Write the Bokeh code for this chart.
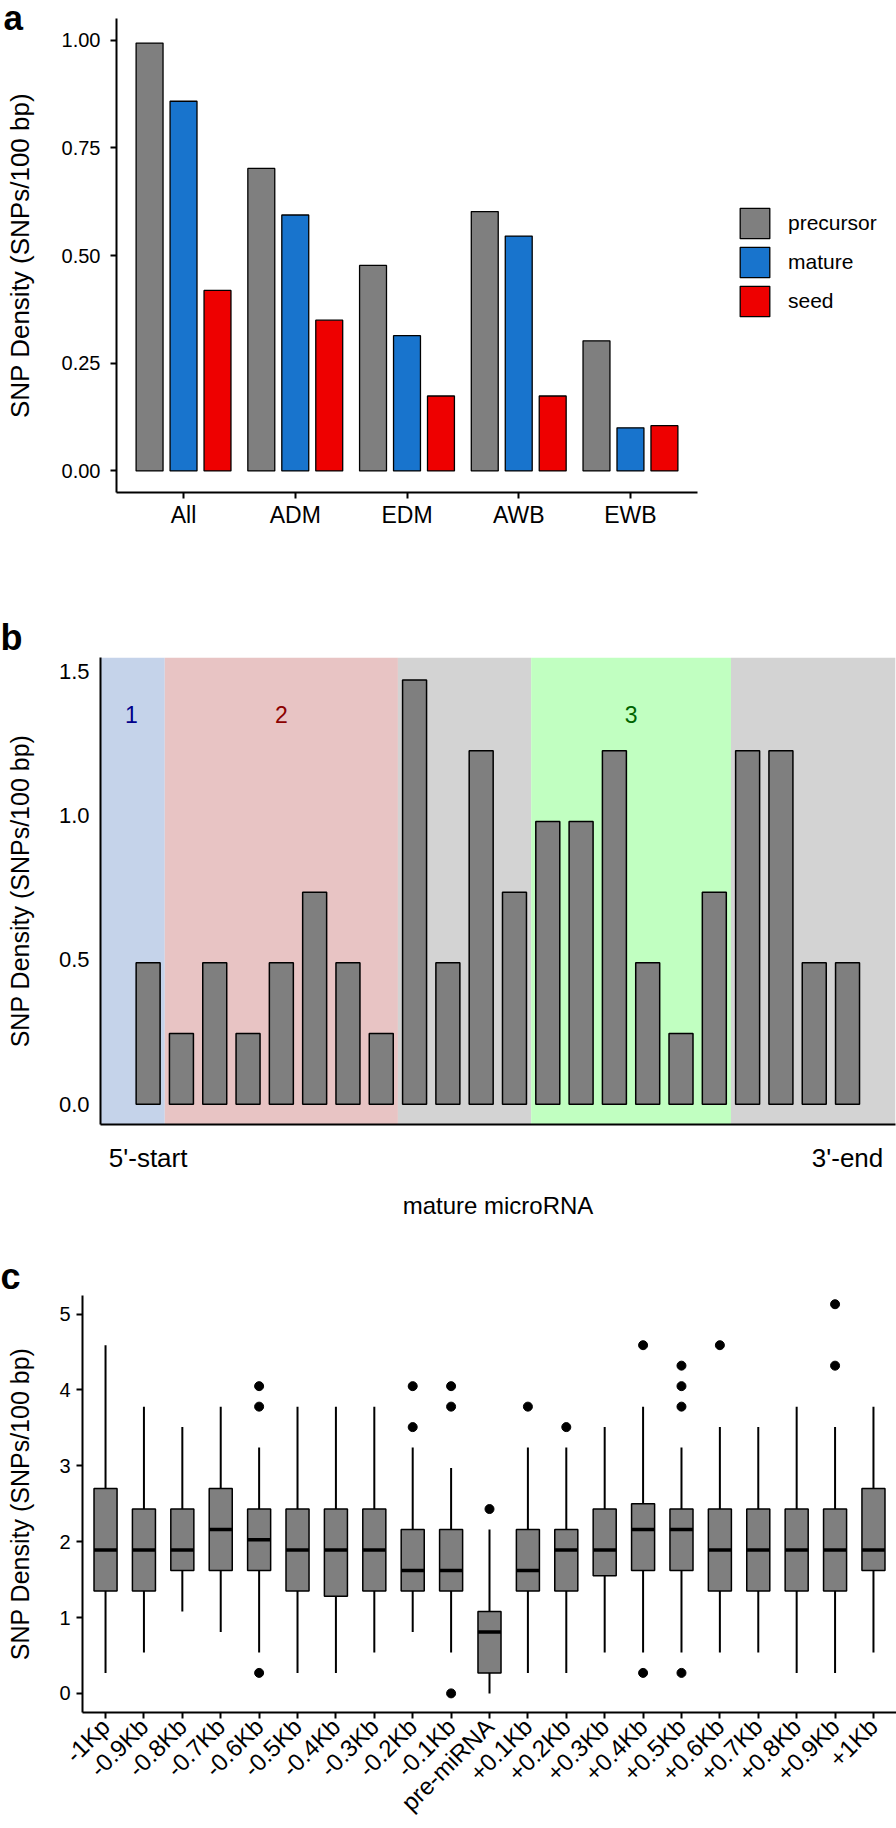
import numpy as np
import pandas as pd
from bokeh.plotting import figure
from bokeh.models import (ColumnDataSource, Range1d, FixedTicker, Plot,
                          NumeralTickFormatter, Legend, LegendItem, BoxAnnotation)
from bokeh.transform import dodge
from bokeh.layouts import column
from bokeh.embed import file_html
from bokeh.resources import INLINE
from bokeh.core.properties import value

FONT = "Liberation Sans"

# ---------------- Panel a data ----------------
groups_a = ["All", "ADM", "EDM", "AWB", "EWB"]
series_a = ["precursor", "mature", "seed"]
precursor_a = [0.993, 0.702, 0.477, 0.602, 0.302]
mature_a = [0.858, 0.594, 0.314, 0.545, 0.100]
seed_a = [0.419, 0.350, 0.174, 0.174, 0.105]
colors_a = ["#7F7F7F", "#1874CD", "#EE0000"]
yticks_a = [0.0, 0.25, 0.5, 0.75, 1.0]

# ---------------- Panel b data ----------------
positions_b = list(range(1, 23))
density_b = [0.49, 0.245, 0.49, 0.245, 0.49, 0.735, 0.49, 0.245, 1.47, 0.49, 1.225,
             0.735, 0.98, 0.98, 1.225, 0.49, 0.245, 0.735, 1.225, 1.225, 0.49, 0.49]
region_left = [None, 1.5, 8.5, 12.5, 18.5]
region_right = [1.5, 8.5, 12.5, 18.5, None]
region_colors = ["#C5D3EA", "#E8C4C4", "#D3D3D3", "#C1FFC1", "#D3D3D3"]
region_names = ["1", "2", "3"]
region_label_x = [0.5, 5.0, 15.5]
region_label_y = [1.35, 1.35, 1.35]
region_label_colors = ["#00008B", "#8B0000", "#006400"]
xtick_pos_b = [1, 22]
xtick_labels_b = ["5'-start", "3'-end"]
yticks_b = [0.0, 0.5, 1.0, 1.5]

# ---------------- Panel c data ----------------
cats_c = ["-1Kp", "-0.9Kb", "-0.8Kb", "-0.7Kb", "-0.6Kb", "-0.5Kb", "-0.4Kb", "-0.3Kb",
          "-0.2Kb", "-0.1Kb", "pre-miRNA", "+0.1Kb", "+0.2Kb", "+0.3Kb", "+0.4Kb",
          "+0.5Kb", "+0.6Kb", "+0.7Kb", "+0.8Kb", "+0.9Kb", "+1Kb"]
lower_c = [0.27, 0.54, 1.08, 0.81, 0.54, 0.27, 0.27, 0.54, 0.81, 0.54, 0.00,
           0.27, 0.27, 0.54, 0.54, 0.54, 0.54, 0.54, 0.27, 0.27, 0.54]
q1_c = [1.35, 1.35, 1.62, 1.62, 1.62, 1.35, 1.28, 1.35, 1.35, 1.35, 0.27,
        1.35, 1.35, 1.55, 1.62, 1.62, 1.35, 1.35, 1.35, 1.35, 1.62]
median_c = [1.89, 1.89, 1.89, 2.16, 2.025, 1.89, 1.89, 1.89, 1.62, 1.62, 0.81,
            1.62, 1.89, 1.89, 2.16, 2.16, 1.89, 1.89, 1.89, 1.89, 1.89]
q3_c = [2.70, 2.43, 2.43, 2.70, 2.43, 2.43, 2.43, 2.43, 2.16, 2.16, 1.08,
        2.16, 2.16, 2.43, 2.50, 2.43, 2.43, 2.43, 2.43, 2.43, 2.70]
upper_c = [4.59, 3.78, 3.51, 3.78, 3.24, 3.78, 3.78, 3.78, 3.24, 2.97, 2.16,
           3.24, 3.24, 3.51, 3.78, 3.24, 3.51, 3.51, 3.78, 3.51, 3.78]
outlier_cat = ["-0.6Kb", "-0.6Kb", "-0.6Kb", "-0.2Kb", "-0.2Kb", "-0.1Kb", "-0.1Kb", "-0.1Kb",
               "pre-miRNA", "+0.1Kb", "+0.2Kb", "+0.4Kb", "+0.4Kb", "+0.5Kb", "+0.5Kb",
               "+0.5Kb", "+0.5Kb", "+0.6Kb", "+0.9Kb", "+0.9Kb"]
outlier_val = [4.05, 3.78, 0.27, 4.05, 3.51, 4.05, 3.78, 0.00,
               2.43, 3.78, 3.51, 4.59, 0.27, 4.32, 4.05,
               3.78, 0.27, 4.59, 5.13, 4.32]
yticks_c = [0, 1, 2, 3, 4, 5]

YTITLE = "SNP Density (SNPs/100 bp)"

HAS_FA = "frame_align" in Plot.properties()
EXTRA = {"frame_align": False} if HAS_FA else {}


def style_axis(ax, tick_out=6, lw=2):
    ax.axis_line_color = "black"
    ax.axis_line_width = lw
    ax.major_tick_line_color = "black"
    ax.major_tick_line_width = lw
    ax.major_tick_out = tick_out
    ax.major_tick_in = 0
    ax.minor_tick_line_color = None
    ax.major_label_text_font = FONT
    ax.major_label_text_color = "black"
    ax.axis_label_text_font = FONT
    ax.axis_label_text_font_style = "normal"
    ax.axis_label_text_color = "black"


def base_fig(**kw):
    p = figure(output_backend="svg", toolbar_location=None, **EXTRA, **kw)
    p.xgrid.grid_line_color = None
    p.ygrid.grid_line_color = None
    p.outline_line_color = None
    p.background_fill_color = "white"
    p.border_fill_color = "white"
    return p


def panel_letter(p, letter, offset, standoff, size="36px"):
    p.title.text = letter
    p.title.align = "left"
    p.title.offset = offset
    p.title.vertical_align = "bottom"
    p.title.standoff = standoff
    p.title.text_font = FONT
    p.title.text_font_size = size
    p.title.text_font_style = "bold"
    p.title.text_color = "black"


# ================= Panel a =================
pos_a = list(range(1, len(groups_a) + 1))
PX_PER_UNIT_A = 581 / 5.2
p_a = base_fig(width=896, height=560,
               x_range=Range1d(0.4, 0.4 + 780 / PX_PER_UNIT_A),
               y_range=Range1d(-0.05, 1.05),
               min_border_left=116, min_border_right=0, min_border_top=18, min_border_bottom=68)
src_a = ColumnDataSource(dict(pos=pos_a, precursor=precursor_a, mature=mature_a, seed=seed_a))
offsets_a = [-0.304, 0.0, 0.304]
rends_a = []
for s, c, off in zip(series_a, colors_a, offsets_a):
    r = p_a.vbar(x=dodge("pos", off), top=s, bottom=0, width=0.241,
                 source=src_a, fill_color=c, line_color="black", line_width=1.3)
    rends_a.append(r)
leg = Legend(items=[LegendItem(label=s, renderers=[r]) for s, r in zip(series_a, rends_a)],
             location=(620, 172), glyph_width=37, glyph_height=38, label_height=38,
             spacing=1, padding=0, margin=0, label_standoff=15,
             label_text_font=FONT, label_text_font_size="21px", label_text_color="black",
             border_line_alpha=0, background_fill_alpha=0)
p_a.add_layout(leg)
style_axis(p_a.xaxis[0])
style_axis(p_a.yaxis[0])
p_a.xaxis.ticker = FixedTicker(ticks=pos_a)
p_a.xaxis.major_label_overrides = {i: g for i, g in zip(pos_a, groups_a)}
p_a.xaxis.bounds = (0.4, 5.6)
p_a.xaxis.major_label_text_font_size = "23px"
p_a.xaxis.major_label_standoff = 3
p_a.yaxis.major_label_text_font_size = "20px"
p_a.yaxis.major_label_standoff = 10
p_a.yaxis.ticker = FixedTicker(ticks=yticks_a)
p_a.yaxis.formatter = NumeralTickFormatter(format="0.00")
p_a.yaxis.axis_label = YTITLE
p_a.yaxis.axis_label_text_font_size = "26px"
p_a.yaxis.axis_label_text_line_height = 1.0
p_a.yaxis.axis_label_standoff = 24
panel_letter(p_a, "a", -113, -37, "35px")

# ================= Panel b =================
p_b = base_fig(width=896, height=667,
               x_range=Range1d(-0.43, 23.44), y_range=Range1d(-0.07, 1.548),
               min_border_left=100, min_border_right=1, min_border_top=97, min_border_bottom=103)
for l, r, c in zip(region_left, region_right, region_colors):
    kw = {}
    if l is not None:
        kw["left"] = l
    if r is not None:
        kw["right"] = r
    p_b.add_layout(BoxAnnotation(fill_color=c, fill_alpha=1.0, line_color=None,
                                 level="underlay", **kw))
p_b.vbar(x=positions_b, top=density_b, bottom=0, width=0.72,
         fill_color="#7F7F7F", line_color="black", line_width=1.5)
p_b.text(x=region_label_x, y=region_label_y, text=region_names, text_color=region_label_colors,
         text_font=value(FONT), text_font_size="23px", text_align="center",
         text_baseline="middle")
style_axis(p_b.xaxis[0], tick_out=0)
style_axis(p_b.yaxis[0], tick_out=0)
p_b.xaxis.ticker = FixedTicker(ticks=xtick_pos_b)
p_b.xaxis.major_label_overrides = {k: v for k, v in zip(xtick_pos_b, xtick_labels_b)}
p_b.xaxis.major_label_text_font_size = "26px"
p_b.xaxis.major_label_standoff = 18
p_b.xaxis.axis_label = "mature microRNA"
p_b.xaxis.axis_label_text_font_size = "24px"
p_b.xaxis.axis_label_standoff = 16
p_b.yaxis.ticker = FixedTicker(ticks=yticks_b)
p_b.yaxis.formatter = NumeralTickFormatter(format="0.0")
p_b.yaxis.major_label_text_font_size = "22px"
p_b.yaxis.major_label_standoff = 11
p_b.yaxis.axis_label = YTITLE
p_b.yaxis.axis_label_text_font_size = "25px"
p_b.yaxis.axis_label_text_line_height = 1.0
p_b.yaxis.axis_label_standoff = 22
panel_letter(p_b, "b", -100, 0)

# ================= Panel c =================
pos_c = list(range(1, len(cats_c) + 1))
p_c = base_fig(width=896, height=601,
               x_range=Range1d(0.4, 21.6), y_range=Range1d(-0.252, 5.245),
               min_border_left=82, min_border_right=0, min_border_top=68, min_border_bottom=106)
src_c = ColumnDataSource(dict(pos=pos_c, lower=lower_c, q1=q1_c, med=median_c,
                              q3=q3_c, upper=upper_c))
p_c.segment(x0="pos", y0="lower", x1="pos", y1="q1", source=src_c, line_color="black", line_width=2)
p_c.segment(x0="pos", y0="q3", x1="pos", y1="upper", source=src_c, line_color="black", line_width=2)
p_c.vbar(x="pos", bottom="q1", top="q3", width=0.6, source=src_c,
         fill_color="#7F7F7F", line_color="black", line_width=1.5)
p_c.segment(x0=dodge("pos", -0.3), y0="med", x1=dodge("pos", 0.3), y1="med", source=src_c,
            line_color="black", line_width=3.5)
cat_index = {c: i + 1 for i, c in enumerate(cats_c)}
src_o = ColumnDataSource(dict(x=[cat_index[c] for c in outlier_cat], y=outlier_val))
p_c.scatter(x="x", y="y", source=src_o, size=9, fill_color="black", line_color="black")
style_axis(p_c.xaxis[0])
style_axis(p_c.yaxis[0])
p_c.xaxis.ticker = FixedTicker(ticks=pos_c)
p_c.xaxis.major_label_overrides = {i: c for i, c in zip(pos_c, cats_c)}
p_c.xaxis.major_label_orientation = np.pi / 4
p_c.xaxis.major_label_text_font_size = "24px"
p_c.xaxis.major_label_standoff = 4
p_c.yaxis.ticker = FixedTicker(ticks=yticks_c)
p_c.yaxis.formatter = NumeralTickFormatter(format="0")
p_c.yaxis.major_label_text_font_size = "20px"
p_c.yaxis.major_label_standoff = 6
p_c.yaxis.axis_label = YTITLE
p_c.yaxis.axis_label_text_font_size = "25px"
p_c.yaxis.axis_label_text_line_height = 1.0
p_c.yaxis.axis_label_standoff = 22
panel_letter(p_c, "c", -82, -3)

if HAS_FA:
    root = column(p_a, p_b, p_c, spacing=0)
    html = file_html(root, INLINE)
else:
    html = file_html([p_a, p_b, p_c], INLINE)
with open("out.html", "w") as f:
    f.write(html)
